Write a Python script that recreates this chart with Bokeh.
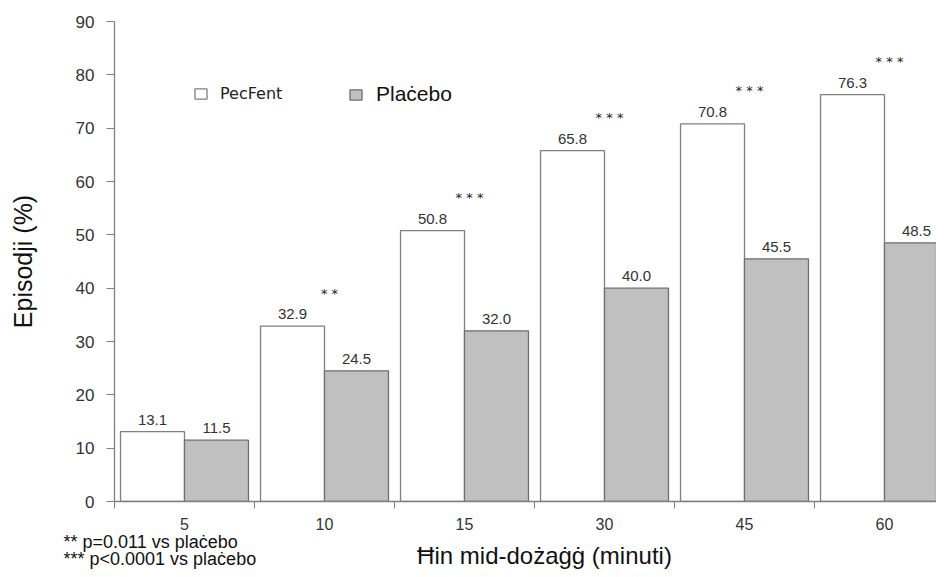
from bokeh.plotting import figure
from bokeh.layouts import column
from bokeh.models import Range1d, FixedTicker, Legend, LegendItem, ColumnDataSource
from bokeh.core.properties import value
from bokeh.embed import file_html
from bokeh.resources import INLINE

# ---- data ----
categories = ["5", "10", "15", "30", "45", "60"]
pecfent = [13.1, 32.9, 50.8, 65.8, 70.8, 76.3]
placebo = [11.5, 24.5, 32.0, 40.0, 45.5, 48.5]
significance = ["", "**", "***", "***", "***", "***"]
y_ticks = [0, 10, 20, 30, 40, 50, 60, 70, 80, 90]
series_names = ["PecFent", "Plaċebo"]
x_title = "Ħin mid-dożaġġ (minuti)"
y_title = "Episodji (%)"
footnotes = ["** p=0.011 vs plaċebo", "*** p<0.0001 vs plaċebo"]

# ---- layout ----
W = 936
H_MAIN, H_FOOT = 533, 36
BAR_W = 0.457
FONT = "Liberation Sans"
centers = [i + 0.5 for i in range(len(categories))]
bounds = list(range(len(categories) + 1))

src = ColumnDataSource(dict(
    center=centers,
    x_pec=[c - BAR_W / 2 for c in centers],
    x_pla=[c + BAR_W / 2 for c in centers],
    pec=pecfent,
    pla=placebo,
    pec_txt=[f"{v:.1f}" for v in pecfent],
    pla_txt=[f"{v:.1f}" for v in placebo],
    sig=[" ".join(s) for s in significance],
))

p = figure(width=W, height=H_MAIN, output_backend="svg", toolbar_location=None,
           x_range=Range1d(0, 822 / 140), y_range=Range1d(0, 90),
           min_border_left=114, min_border_right=0, min_border_top=21, min_border_bottom=32)
p.frame_align = False
p.outline_line_color = None
p.grid.visible = False
p.background_fill_color = "white"

r_pec = p.vbar(x="x_pec", top="pec", width=BAR_W, bottom=0, source=src,
               fill_color="white", line_color="#7f7f7f", line_width=1.3)
r_pla = p.vbar(x="x_pla", top="pla", width=BAR_W, bottom=0, source=src,
               fill_color="#c0c0c0", line_color="#6f6f6f", line_width=1.3)

p.text(x="x_pec", y="pec", text="pec_txt", source=src, text_align="center",
       text_baseline="middle", y_offset=-12, text_font=value(FONT),
       text_font_size="15px", text_color="#333333")
p.text(x="x_pla", y="pla", text="pla_txt", source=src, text_align="center",
       text_baseline="middle", y_offset=-12, text_font=value(FONT),
       text_font_size="15px", text_color="#333333")
p.text(x="center", y="pec", text="sig", source=src, text_align="center",
       text_baseline="middle", x_offset=5, y_offset=-33, text_font=value("DejaVu Sans"),
       text_font_size="13px", text_color="#222222")

# axes
xa = p.xaxis[0]
xa.ticker = FixedTicker(ticks=centers, minor_ticks=bounds)
xa.major_label_overrides = {c: lab for c, lab in zip(centers, categories)}
xa.major_tick_line_color = None
xa.major_tick_out = 0
xa.major_tick_in = 0
xa.minor_tick_out = 7
xa.minor_tick_in = 0
xa.minor_tick_line_color = "#808080"
xa.axis_line_color = "#808080"
xa.axis_line_width = 1.3
xa.major_label_standoff = 9
xa.major_label_text_font = FONT
xa.major_label_text_font_size = "16px"
xa.major_label_text_color = "#333333"

ya = p.yaxis[0]
ya.ticker = FixedTicker(ticks=y_ticks)
ya.major_tick_out = 8
ya.major_tick_in = 0
ya.minor_tick_line_color = None
ya.major_tick_line_color = "#808080"
ya.axis_line_color = "#808080"
ya.axis_line_width = 1.3
ya.major_label_standoff = 12
ya.major_label_text_font = FONT
ya.major_label_text_font_size = "17px"
ya.major_label_text_color = "#333333"
ya.axis_label = y_title
ya.axis_label_standoff = 36
ya.axis_label_text_font = FONT
ya.axis_label_text_font_size = "25px"
ya.axis_label_text_font_style = "normal"
ya.axis_label_text_color = "#111111"

# legends
leg1 = Legend(items=[LegendItem(label=series_names[0], renderers=[r_pec])],
              location=(79, 398), padding=0, margin=0, spacing=0,
              glyph_width=15, glyph_height=13, label_height=13, label_standoff=12,
              label_text_font="DejaVu Sans", label_text_font_size="16px",
              label_text_color="#222222",
              border_line_color=None, background_fill_alpha=0)
leg2 = Legend(items=[LegendItem(label=series_names[1], renderers=[r_pla])],
              location=(234, 395), padding=0, margin=0, spacing=0,
              glyph_width=15, glyph_height=13, label_height=13, label_standoff=13,
              label_text_font=FONT, label_text_font_size="21px",
              label_text_color="#111111",
              border_line_color=None, background_fill_alpha=0)
p.add_layout(leg1, "center")
p.add_layout(leg2, "center")

# ---- footer strip: footnotes and x-axis title ----
f = figure(width=W, height=H_FOOT, output_backend="svg", toolbar_location=None,
           x_range=Range1d(0, W), y_range=Range1d(H_FOOT, 0),
           x_axis_type=None, y_axis_type=None, min_border=0)
f.frame_align = False
f.outline_line_color = None
f.grid.visible = False
f.text(x=[63, 63], y=[8, 25], text=footnotes, text_align="left", text_baseline="middle",
       text_font=value(FONT), text_font_size="18px", text_color="#111111")
f.text(x=[544], y=[22], text=[x_title], text_align="center", text_baseline="middle",
       text_font=value(FONT), text_font_size="24px", text_color="#111111")

layout = column(p, f, spacing=0)
open("out.html", "w").write(file_html(layout, INLINE))
